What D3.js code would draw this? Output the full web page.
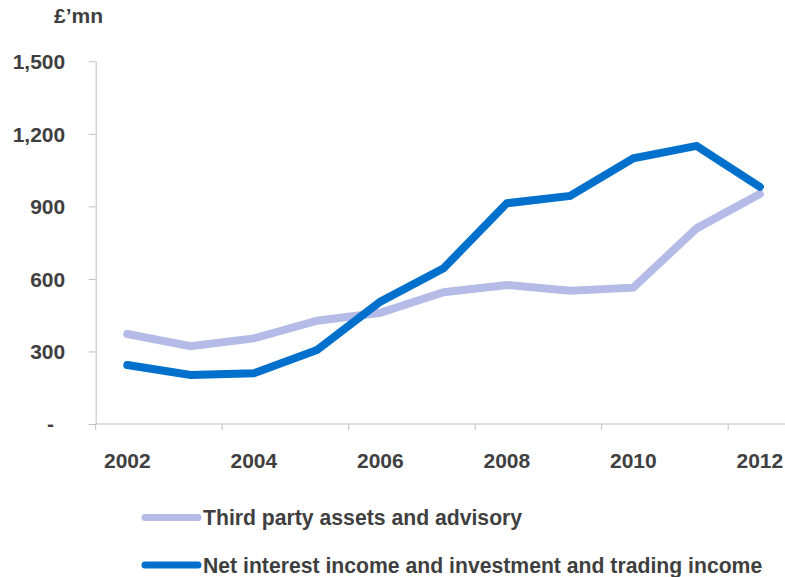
<!DOCTYPE html>
<html>
<head>
<meta charset="utf-8">
<script src="https://cdn.jsdelivr.net/npm/d3@7"></script>
<style>
  html, body { margin: 0; padding: 0; background: #fff; }
  svg { display: block; font-family: "Liberation Sans", Arial, sans-serif; font-weight: bold; }
</style>
</head>
<body>
<svg id="chart" width="785" height="577"></svg>
<script>
// Income by year, £ millions
const years = [2002, 2003, 2004, 2005, 2006, 2007, 2008, 2009, 2010, 2011, 2012];
const thirdParty = [372, 322, 354, 427, 460, 545, 575, 551, 564, 809, 951];
const netInterest = [244, 203, 210, 306, 506, 644, 913, 943, 1099, 1150, 981];
const yTicks = [0, 300, 600, 900, 1200, 1500];
const xLabelYears = [2002, 2004, 2006, 2008, 2010, 2012];
const seriesNames = ["Third party assets and advisory", "Net interest income and investment and trading income"];
const seriesColors = ["#B4BBE6", "#0070CD"];

const svg = d3.select("#chart");
const textColor = "#3F3F3F";
const axisColor = "#BFBFBF";

const left = 95.7, catW = 63.25;
const x = d3.scaleBand().domain(years).range([left, left + catW * years.length]).padding(0);
const y = d3.scaleLinear().domain([0, 1500]).range([424, 61.3]);

// Y axis
const yAxis = d3.axisLeft(y)
  .tickValues(yTicks)
  .tickSize(7)
  .tickSizeOuter(0)
  .tickFormat(d => d === 0 ? "" : d3.format(",")(d));
const gy = svg.append("g").attr("transform", `translate(${left},0)`).call(yAxis);
gy.select(".domain").attr("stroke", axisColor);
gy.selectAll(".tick line").attr("stroke", axisColor);
gy.selectAll(".tick text")
  .attr("x", -30.5)
  .attr("dy", "0.35em")
  .attr("fill", textColor)
  .style("font-size", "21px")
  .style("font-family", "'Liberation Sans', Arial, sans-serif")
  .style("font-weight", "bold");
// zero is shown as a dash
svg.append("text")
  .attr("x", 54).attr("y", y(0)).attr("dy", "0.35em")
  .attr("text-anchor", "end")
  .attr("fill", textColor)
  .style("font-size", "21px")
  .text("-");

// Unit label
svg.append("text")
  .attr("x", 54).attr("y", 23)
  .attr("fill", textColor)
  .style("font-size", "21px")
  .text("£’mn");

// X axis line, ticks every two years and labels
svg.append("line")
  .attr("x1", left).attr("x2", 785)
  .attr("y1", y(0)).attr("y2", y(0))
  .attr("stroke", axisColor).attr("stroke-width", 1.2);
svg.selectAll(".xtick").data(xLabelYears).join("line")
  .attr("class", "xtick")
  .attr("x1", d => x(d)).attr("x2", d => x(d))
  .attr("y1", y(0)).attr("y2", y(0) + 6)
  .attr("stroke", axisColor);
svg.selectAll(".xlabel").data(xLabelYears).join("text")
  .attr("class", "xlabel")
  .attr("x", d => x(d) + x.bandwidth() / 2)
  .attr("y", 468)
  .attr("text-anchor", "middle")
  .attr("fill", textColor)
  .style("font-size", "21px")
  .text(d => d);

// Lines
const line = d3.line()
  .x((d, i) => x(years[i]) + x.bandwidth() / 2)
  .y(d => y(d));

[thirdParty, netInterest].forEach((vals, k) => {
  svg.append("path")
    .datum(vals)
    .attr("d", line)
    .attr("fill", "none")
    .attr("stroke", seriesColors[k])
    .attr("stroke-width", 8)
    .attr("stroke-linejoin", "miter")
    .attr("stroke-linecap", "round");
});

// Legend
const legendY = [517.5, 565];
seriesNames.forEach((name, k) => {
  svg.append("line")
    .attr("x1", 145).attr("x2", 198)
    .attr("y1", legendY[k]).attr("y2", legendY[k])
    .attr("stroke", seriesColors[k])
    .attr("stroke-width", 7)
    .attr("stroke-linecap", "round");
  svg.append("text")
    .attr("x", 203).attr("y", legendY[k]).attr("dy", "0.36em")
    .attr("fill", textColor)
    .style("font-size", "21.2px")
    .text(name);
});
</script>
</body>
</html>
